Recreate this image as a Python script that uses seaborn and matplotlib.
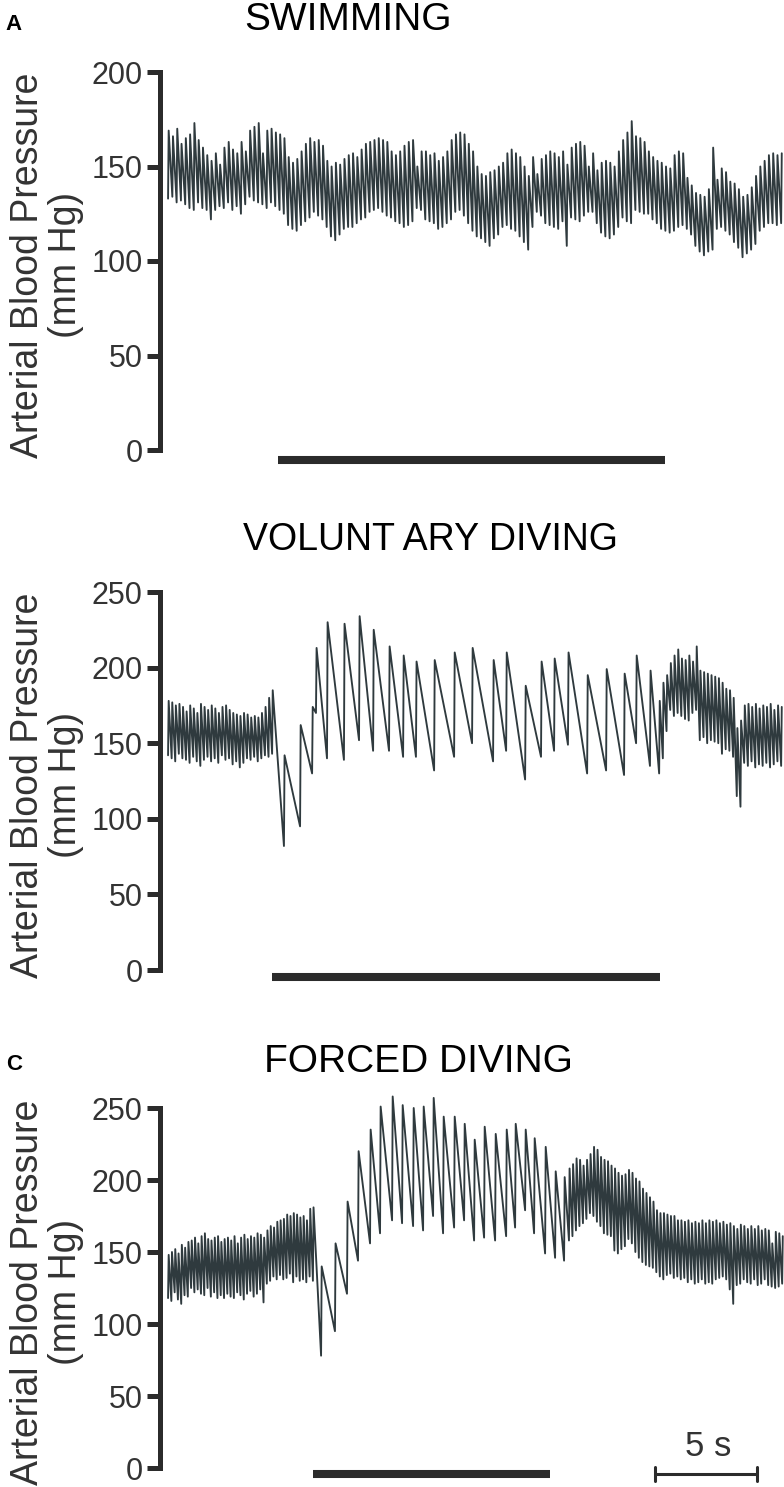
import numpy as np
import pandas as pd
import matplotlib
matplotlib.use("Agg")
import matplotlib.pyplot as plt
import seaborn as sns

# ---- data (mm Hg per beat, time in s) ----
# A: swimming, one regular run of beats
SWIM_SPAN = (0.15, 30.2)
SWIM_SYS = [169, 166, 170, 162, 165, 167, 173, 164, 160, 156,
            153, 157, 151, 160, 163, 159, 157, 163, 158, 169,
            171, 173, 157, 169, 170, 168, 167, 165, 155, 152,
            154, 158, 162, 165, 163, 164, 161, 153, 150, 152,
            151, 154, 156, 157, 155, 159, 162, 163, 164, 165,
            164, 163, 158, 156, 158, 161, 163, 164, 150, 158,
            158, 156, 157, 153, 155, 158, 164, 167, 168, 167,
            162, 158, 150, 146, 145, 147, 148, 150, 152, 157,
            159, 157, 155, 150, 145, 155, 146, 154, 156, 158,
            157, 155, 158, 151, 160, 162, 163, 161, 150, 157,
            148, 152, 153, 152, 150, 158, 164, 168, 174, 166,
            165, 163, 158, 155, 153, 152, 150, 149, 156, 158,
            157, 144, 140, 136, 135, 134, 138, 160, 143, 149,
            147, 142, 141, 138, 134, 135, 139, 145, 150, 153,
            156, 157, 156, 157]
SWIM_DIA = [133, 134, 131, 132, 130, 128, 127, 131, 128, 127,
            122, 127, 129, 128, 131, 127, 129, 125, 130, 134,
            132, 131, 130, 128, 131, 129, 127, 125, 119, 117,
            116, 119, 121, 123, 126, 124, 122, 118, 113, 111,
            114, 117, 118, 118, 120, 122, 123, 126, 127, 128,
            126, 124, 123, 121, 120, 118, 119, 121, 128, 127,
            122, 121, 120, 117, 118, 120, 122, 126, 127, 124,
            120, 116, 113, 112, 110, 108, 112, 114, 118, 119,
            117, 116, 113, 110, 106, 118, 126, 124, 120, 119,
            118, 117, 121, 108, 123, 122, 121, 124, 126, 126,
            120, 115, 113, 112, 114, 118, 123, 121, 120, 127,
            126, 125, 125, 122, 120, 117, 116, 115, 116, 118,
            119, 117, 114, 108, 105, 103, 105, 106, 117, 118,
            116, 114, 110, 107, 102, 104, 106, 109, 116, 118,
            120, 120, 119, 120]
SWIM_BAR = (5.54, 24.51)

# B: voluntary diving
VOL_PRE_SPAN = (0.15, 5.25)
VOL_PRE_SYS = [178, 177, 175, 176, 174, 171, 175, 173, 170, 176,
               174, 172, 175, 173, 170, 174, 175, 172, 170, 169,
               168, 170, 169, 167, 168, 167, 170, 174, 180, 185]
VOL_PRE_DIA = [142, 140, 138, 143, 140, 139, 137, 141, 138, 135,
               139, 141, 138, 140, 137, 142, 139, 140, 136, 138,
               134, 137, 140, 139, 141, 138, 140, 142, 141, 143]
VOL_DIVE_T = [5.83, 6.62, 7.21, 7.40, 7.94, 8.77, 9.51, 10.20, 10.98, 11.67,
              12.30, 13.19, 14.17, 15.05, 16.08, 16.72, 17.65, 18.43, 19.07, 19.75,
              20.69, 21.62, 22.50, 23.09, 23.77]
VOL_DIVE_SYS = [142, 162, 174, 213, 230, 229, 234, 225, 214, 208,
                204, 205, 210, 213, 205, 210, 188, 204, 206, 210,
                195, 199, 196, 208, 198]
VOL_DIVE_DIA = [82, 95, 130, 170, 140, 139, 152, 145, 145, 141,
                141, 132, 141, 150, 138, 145, 126, 141, 145, 149,
                130, 132, 129, 150, 135]
VOL_POST_SPAN = (24.22, 30.2)
VOL_POST_SYS = [178, 190, 195, 203, 208, 212, 206, 205, 208, 204,
                214, 198, 197, 196, 195, 194, 193, 190, 186, 185,
                180, 160, 165, 175, 176, 174, 176, 173, 175, 174,
                176, 172, 175, 174]
VOL_POST_DIA = [130, 140, 158, 172, 168, 170, 168, 166, 165, 170,
                172, 152, 154, 150, 152, 151, 150, 143, 146, 145,
                141, 115, 108, 137, 135, 138, 134, 136, 135, 137,
                134, 136, 138, 135]
VOL_BAR = (5.25, 24.26)

# C: forced diving
FRC_PRE_SPAN = (0.15, 7.25)
FRC_PRE_SYS = [148, 150, 152, 149, 155, 153, 157, 158, 160, 156,
               161, 163, 159, 158, 160, 161, 157, 159, 160, 158,
               161, 156, 160, 162, 159, 161, 160, 163, 162, 160,
               165, 168, 167, 171, 172, 173, 176, 175, 177, 176,
               174, 175, 172, 180, 181]
FRC_PRE_DIA = [118, 116, 122, 117, 114, 120, 119, 125, 122, 124,
               121, 120, 125, 119, 122, 118, 120, 118, 121, 119,
               118, 122, 120, 117, 121, 123, 119, 121, 124, 115,
               128, 130, 133, 131, 134, 131, 132, 135, 129, 133,
               130, 131, 129, 133, 130]
FRC_DIVE_T = [7.65, 8.33, 8.92, 9.46, 10.05, 10.54, 11.13, 11.62, 12.16, 12.65,
              13.14, 13.63, 14.17, 14.66, 15.15, 15.64, 16.18, 16.72, 17.16, 17.65,
              18.09, 18.63, 19.12, 19.56]
FRC_DIVE_SYS = [140, 156, 185, 220, 235, 251, 258, 252, 250, 251,
                257, 244, 244, 239, 228, 237, 232, 235, 239, 235,
                229, 223, 206, 202]
FRC_DIVE_DIA = [78, 95, 121, 144, 156, 163, 172, 170, 168, 165,
                175, 163, 167, 172, 158, 160, 158, 161, 167, 179,
                163, 149, 146, 144]
FRC_POST_SPAN = (19.80, 30.25)
FRC_POST_SYS = [208, 211, 215, 214, 210, 214, 218, 223, 221, 216,
                214, 213, 210, 208, 205, 203, 204, 207, 205, 201,
                199, 194, 191, 188, 185, 179, 177, 177, 176, 175,
                175, 172, 172, 171, 172, 170, 171, 170, 172, 170,
                172, 171, 172, 170, 171, 169, 170, 168, 166, 169,
                168, 166, 168, 166, 168, 165, 166, 165, 156, 164,
                163, 161]
FRC_POST_DIA = [158, 161, 165, 168, 170, 173, 177, 175, 171, 168,
                163, 162, 161, 151, 149, 152, 154, 159, 156, 150,
                146, 143, 141, 140, 139, 136, 133, 131, 134, 135,
                132, 133, 131, 132, 129, 131, 128, 129, 131, 128,
                129, 128, 131, 132, 133, 131, 124, 114, 127, 128,
                131, 129, 128, 131, 127, 128, 131, 127, 126, 125,
                126, 128]
FRC_BAR = (7.25, 18.87)
SCALE_BAR = (24.0, 29.0)

TRACE = "#2f3a3e"
INK = "#2b2b2b"
RISE = 0.03  # upstroke duration (s)


def beats(times, sys_, dia):
    t, p = [], []
    for ti, s, d in zip(times, sys_, dia):
        t += [ti, ti + RISE]
        p += [d, s]
    return t, p


def make_trace(segments):
    t_all, p_all = [], []
    for times, s, d in segments:
        t, p = beats(times, s, d)
        t_all += t
        p_all += p
    return pd.DataFrame({"t": t_all, "p": p_all})


def even(span, n):
    return np.linspace(span[0], span[1], n)


sns.set_theme(style="white")
plt.rcParams["font.family"] = ["Liberation Sans", "DejaVu Sans"]

W, H = 784, 1487
fig = plt.figure(figsize=(W / 100, H / 100), dpi=100)

XL = (-0.245, 30.34)


def panel(bottom_px, top_px, top_val, df, bar, bar_y):
    ax = fig.add_axes([160 / W, 1 - bottom_px / H, 1 - 160 / W, (bottom_px - top_px) / H])
    sns.lineplot(data=df, x="t", y="p", estimator=None, sort=False,
                 color=TRACE, linewidth=1.35, ax=ax)
    ax.lines[-1].set_clip_on(False)
    ax.set_xlim(*XL)
    ax.set_ylim(0, top_val)
    ax.set_yticks(range(0, top_val + 1, 50))
    ax.set_xticks([])
    ax.set_xlabel("")
    ax.set_ylabel("")
    for s in ["top", "right", "bottom"]:
        ax.spines[s].set_visible(False)
    sp = ax.spines["left"]
    sp.set_linewidth(3.6)
    sp.set_color(INK)
    sp.set_bounds(0, top_val)
    sp.set_capstyle("projecting")
    ax.tick_params(axis="y", direction="out", length=9.5, width=3.6, color=INK,
                   labelsize=22, labelcolor="#333333", pad=3, left=True)
    ax.plot(bar, [bar_y, bar_y], color=INK, linewidth=5.8,
            solid_capstyle="butt", clip_on=False)
    ax.set_facecolor("none")
    return ax


dfA = make_trace([(even(SWIM_SPAN, len(SWIM_SYS)), SWIM_SYS, SWIM_DIA)])
dfB = make_trace([(even(VOL_PRE_SPAN, len(VOL_PRE_SYS)), VOL_PRE_SYS, VOL_PRE_DIA),
                  (VOL_DIVE_T, VOL_DIVE_SYS, VOL_DIVE_DIA),
                  (even(VOL_POST_SPAN, len(VOL_POST_SYS)), VOL_POST_SYS, VOL_POST_DIA)])
dfC = make_trace([(even(FRC_PRE_SPAN, len(FRC_PRE_SYS)), FRC_PRE_SYS, FRC_PRE_DIA),
                  (FRC_DIVE_T, FRC_DIVE_SYS, FRC_DIVE_DIA),
                  (even(FRC_POST_SPAN, len(FRC_POST_SYS)), FRC_POST_SYS, FRC_POST_DIA)])

axA = panel(450, 72, 200, dfA, SWIM_BAR, -5.3)
axB = panel(970, 592, 250, dfB, VOL_BAR, -4.5)
axC = panel(1468, 1108, 250, dfC, FRC_BAR, -4.0)

# 5 s scale bar
axC.plot(SCALE_BAR, [-4.0, -4.0], color=INK, linewidth=2.2, clip_on=False)
for x in SCALE_BAR:
    axC.plot([x, x], [-9.0, 1.0], color=INK, linewidth=2.2, clip_on=False)
fig.text(708 / W, 1 - 1446 / H, "5 s", ha="center", va="center",
         fontsize=25, color="#333333")

ylab = "Arterial Blood Pressure\n(mm Hg)"
for yc in (265, 785, 1292):
    fig.text(47 / W, 1 - yc / H, ylab, rotation=90, ha="center", va="center",
             multialignment="center", fontsize=27, color="#333333", linespacing=1.1)

fig.text(348 / W, 1 - 20 / H, "SWIMMING", ha="center", va="center", fontsize=28, color="black")
fig.text(430 / W, 1 - 540 / H, "VOLUNT ARY DIVING", ha="center", va="center", fontsize=27, color="black")
fig.text(418 / W, 1 - 1062 / H, "FORCED DIVING", ha="center", va="center", fontsize=28, color="black")
fig.text(14 / W, 1 - 25 / H, "A", ha="center", va="center", fontsize=16, fontweight="bold", color="black")
fig.text(14 / W, 1 - 1064 / H, "C", ha="center", va="center", fontsize=16, fontweight="bold", color="black")

fig.savefig("out.png", dpi=100, facecolor="white")
